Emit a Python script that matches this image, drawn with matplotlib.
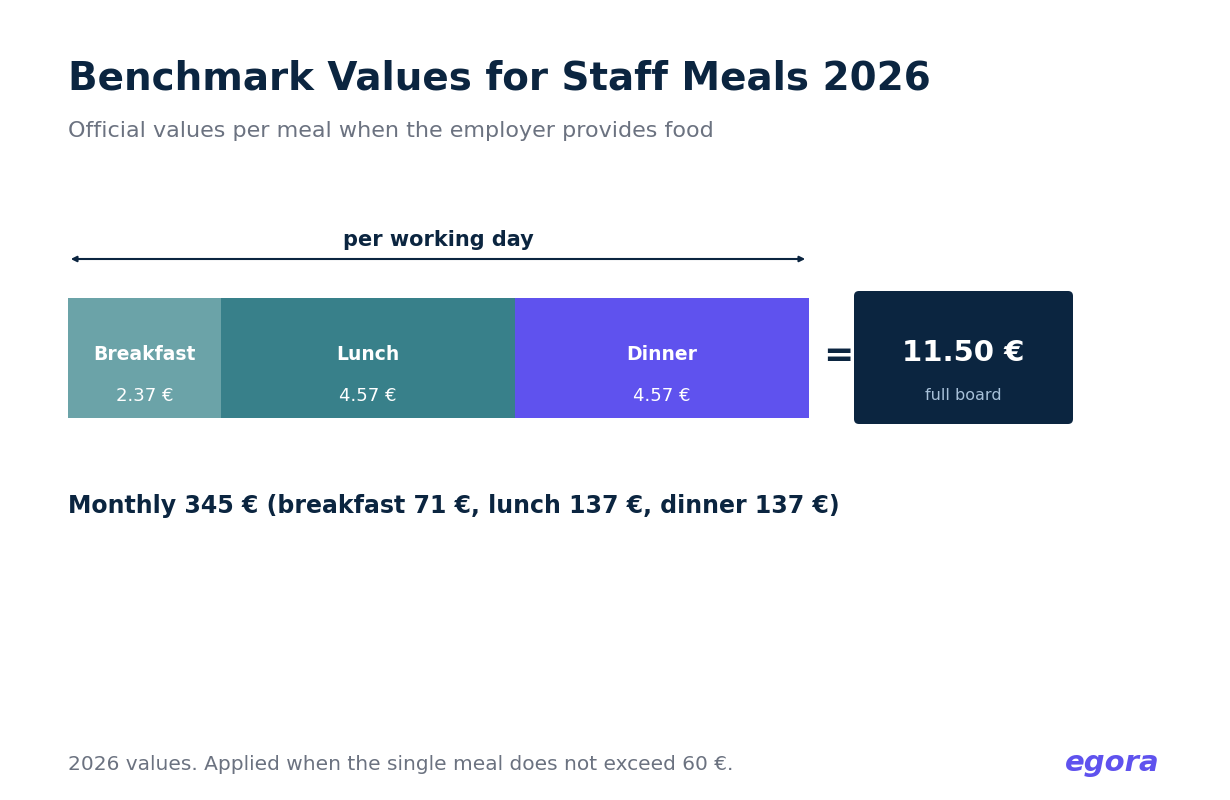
import matplotlib.pyplot as plt
from matplotlib.patches import Rectangle, FancyBboxPatch

meals = ["Breakfast", "Lunch", "Dinner"]
values = [2.37, 4.57, 4.57]
value_labels = ["2.37 €", "4.57 €", "4.57 €"]
colors = ["#6BA3A8", "#38808A", "#5F52EE"]
total_label = "11.50 €"

dark = "#0B2540"
grey = "#6B7280"

fig = plt.figure(figsize=(12.3, 8), dpi=100)
ax = fig.add_axes([0, 0, 1, 1])
ax.set_xlim(0, 1230)
ax.set_ylim(800, 0)
ax.axis("off")

ax.text(68, 78, "Benchmark Values for Staff Meals 2026", fontsize=28, fontweight="bold",
        color=dark, va="center")
ax.text(68, 131, "Official values per meal when the employer provides food", fontsize=16,
        color=grey, va="center")

# stacked bar, scaled in euros
x0, x1 = 68, 809
scale = (x1 - x0) / sum(values)
left = x0
for name, v, lab, c in zip(meals, values, value_labels, colors):
    w = v * scale
    ax.add_patch(Rectangle((left, 298), w, 120, color=c, lw=0))
    ax.text(left + w / 2, 354, name, fontsize=13.5, fontweight="bold", color="white",
            ha="center", va="center")
    ax.text(left + w / 2, 396, lab, fontsize=13, color="white", ha="center", va="center")
    left += w

ax.annotate("", xy=(68, 259), xytext=(808, 259),
            arrowprops=dict(arrowstyle="<|-|>", color=dark, lw=1.5, mutation_scale=8))
ax.text(438, 240, "per working day", fontsize=15, fontweight="bold", color=dark,
        ha="center", va="center")

ax.text(838, 356, "=", fontsize=26, fontweight="bold", color=dark, ha="center", va="center")
ax.add_patch(FancyBboxPatch((857, 294), 213, 127, boxstyle="round,pad=3,rounding_size=5",
                            color=dark, lw=0))
ax.text(963, 353, total_label, fontsize=21, fontweight="bold", color="white",
        ha="center", va="center")
ax.text(963, 396, "full board", fontsize=11.5, color="#A7C0D8", ha="center", va="center")

ax.text(68, 506, "Monthly 345 € (breakfast 71 €, lunch 137 €, dinner 137 €)", fontsize=17,
        fontweight="bold", color=dark, va="center")

ax.text(68, 764, "2026 values. Applied when the single meal does not exceed 60 €.", fontsize=14.5,
        color=grey, va="center")
ax.text(1160, 763, "egora", fontsize=21, fontweight="bold", fontstyle="italic",
        color="#5F52EE", ha="right", va="center")

fig.savefig("out.png", dpi=100)
